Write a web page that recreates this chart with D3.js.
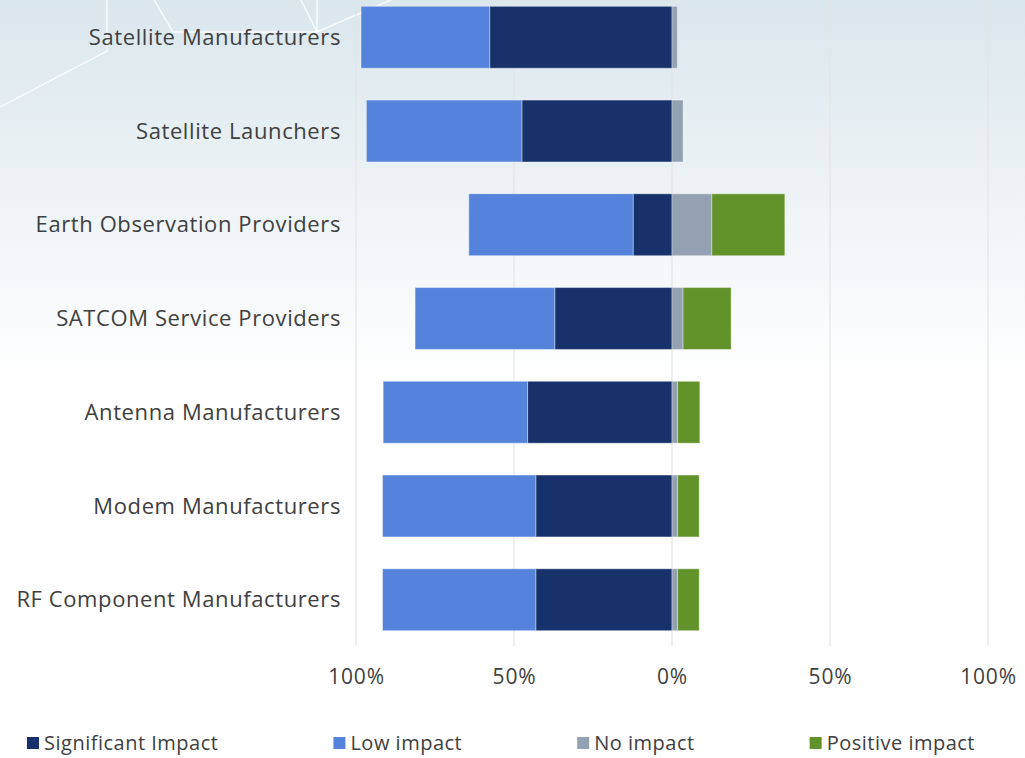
<!DOCTYPE html>
<html>
<head>
<meta charset="utf-8">
<script src="https://cdn.jsdelivr.net/npm/d3@7"></script>
<style>
  html, body { margin: 0; padding: 0; background: #ffffff; }
  svg { display: block; }
  text { font-family: "Open Sans", "Noto Sans", sans-serif; fill: #404040; }
</style>
</head>
<body>
<svg id="chart" width="1025" height="758"></svg>
<script>
// ---- data ----
const categories = [
  "Satellite Manufacturers",
  "Satellite Launchers",
  "Earth Observation Providers",
  "SATCOM Service Providers",
  "Antenna Manufacturers",
  "Modem Manufacturers",
  "RF Component Manufacturers"
];
const significantImpact = [57.7, 47.5, 12.3, 37.1, 45.7, 43.1, 43.1];
const lowImpact         = [40.7, 49.2, 52.0, 44.2, 45.7, 48.5, 48.5];
const noImpact          = [1.7, 3.5, 12.6, 3.5, 1.8, 1.8, 1.8];
const positiveImpact    = [0, 0, 23.1, 15.2, 7.0, 6.8, 6.8];
const tickValues = [-100, -50, 0, 50, 100];
const tickLabels = ["100%", "50%", "0%", "50%", "100%"];
const seriesNames = ["Significant Impact", "Low impact", "No impact", "Positive impact"];
const seriesColors = ["#17316a", "#5583db", "#94a1b3", "#62922a"];

// ---- setup ----
const W = 1025, H = 758;
const svg = d3.select("#chart");

// background gradient
const defs = svg.append("defs");
const grad = defs.append("linearGradient").attr("id", "bg")
  .attr("x1", 0).attr("y1", 0).attr("x2", 0).attr("y2", 1);
grad.append("stop").attr("offset", "0%").attr("stop-color", "#dae7ed");
grad.append("stop").attr("offset", "22%").attr("stop-color", "#eaf1f4");
grad.append("stop").attr("offset", "50%").attr("stop-color", "#ffffff");
grad.append("stop").attr("offset", "100%").attr("stop-color", "#ffffff");
svg.append("rect").attr("width", W).attr("height", H).attr("fill", "url(#bg)");

// decorative network lines (background art)
const deco = svg.append("g").attr("fill", "none").attr("stroke", "#ffffff")
  .attr("stroke-width", 1.4).attr("stroke-opacity", 0.85);
const decoLines = [
  [[107, -2], [107, 51], [-2, 108]],
  [[153, -2], [173, 32], [317, 32]],
  [[300, -2], [317, 32]],
  [[317, -2], [317, 32], [400, -4]]
];
decoLines.forEach(pts => deco.append("path").attr("d", d3.line()(pts)));

const x = d3.scaleLinear().domain([-100, 100]).range([356, 988]);
const y = d3.scaleBand().domain(categories).range([-9.6, 646.6])
  .paddingInner(0.34).paddingOuter(0.17);

// grid
svg.append("g").selectAll("line").data(tickValues).join("line")
  .attr("x1", d => x(d)).attr("x2", d => x(d))
  .attr("y1", 0).attr("y2", 646)
  .attr("stroke", "#e4e4e4").attr("stroke-width", 1.2);

// stacked segments
const rows = categories.map((c, i) => {
  const s = significantImpact[i], l = lowImpact[i], n = noImpact[i], p = positiveImpact[i];
  return [
    { cat: c, k: 0, x0: -s, x1: 0 },
    { cat: c, k: 1, x0: -(s + l), x1: -s },
    { cat: c, k: 2, x0: 0, x1: n },
    { cat: c, k: 3, x0: n, x1: n + p }
  ];
}).flat().filter(d => d.x1 - d.x0 > 0);

svg.append("g").selectAll("rect").data(rows).join("rect")
  .attr("x", d => x(d.x0))
  .attr("width", d => x(d.x1) - x(d.x0))
  .attr("y", d => y(d.cat))
  .attr("height", y.bandwidth())
  .attr("fill", d => seriesColors[d.k])
  .attr("stroke", "rgba(255,255,255,0.35)")
  .attr("stroke-width", 1);

// category labels
svg.append("g").selectAll("text").data(categories).join("text")
  .attr("x", 341)
  .attr("y", d => y(d) + y.bandwidth() / 2)
  .attr("dy", "0.35em")
  .attr("text-anchor", "end")
  .attr("font-size", 22)
  .attr("letter-spacing", 0.6)
  .text(d => d);

// x axis labels
const xAxis = d3.axisBottom(x).tickValues(tickValues)
  .tickFormat((d, i) => tickLabels[i]).tickSize(0).tickPadding(0);
const ax = svg.append("g").attr("transform", "translate(0,677)").call(xAxis);
ax.select(".domain").remove();
ax.selectAll("text").attr("font-size", 21).attr("fill", "#404040")
  .attr("letter-spacing", 0.8)
  .attr("dy", "0.35em").attr("y", 0)
  .style("font-family", "\"Open Sans\", \"Noto Sans\", sans-serif");

// legend
const lg = svg.append("g");
let lx = 27;
seriesNames.forEach((name, i) => {
  const g = lg.append("g").attr("transform", `translate(${lx},0)`);
  g.append("rect").attr("x", 0).attr("y", 737).attr("width", 12).attr("height", 12)
    .attr("fill", seriesColors[i]);
  const t = g.append("text").attr("x", 17).attr("y", 743).attr("dy", "0.35em")
    .attr("font-size", 20).attr("letter-spacing", 0.5).text(name);
  const w = t.node().getComputedTextLength();
  lx += 17 + w + 115;
});
</script>
</body>
</html>
